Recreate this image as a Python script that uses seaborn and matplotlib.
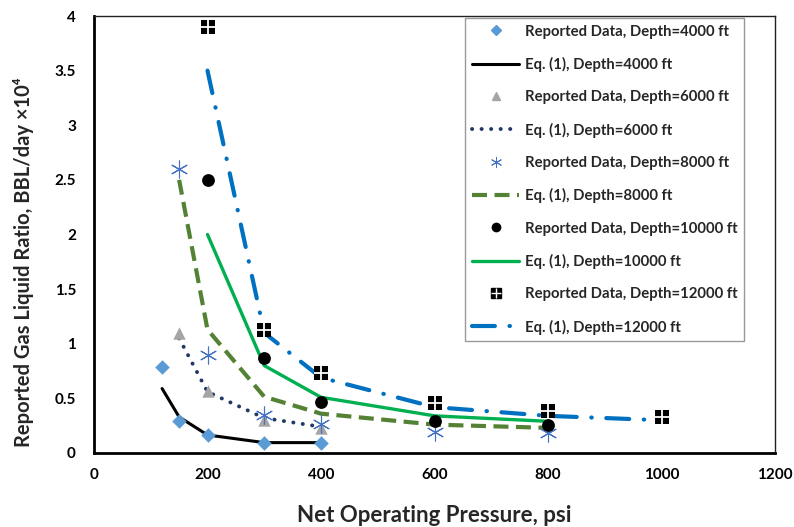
import matplotlib
matplotlib.use("Agg")
import matplotlib.pyplot as plt
import seaborn as sns
from matplotlib.lines import Line2D
from matplotlib.legend_handler import HandlerTuple

# ---- data ----
p_4000 = [120, 150, 200, 300, 400]
rep_4000 = [0.79, 0.29, 0.165, 0.095, 0.09]
eq_4000 = [0.59, 0.33, 0.165, 0.095, 0.095]

p_6000 = [150, 200, 300, 400]
rep_6000 = [1.10, 0.57, 0.30, 0.23]
eq_6000 = [1.05, 0.56, 0.32, 0.24]

p_8000 = [150, 200, 300, 400, 600, 800]
rep_8000 = [2.60, 0.90, 0.35, 0.27, 0.195, 0.18]
eq_8000 = [2.50, 1.13, 0.515, 0.36, 0.26, 0.23]

p_10000 = [200, 300, 400, 600, 800]
rep_10000 = [2.50, 0.867, 0.464, 0.29, 0.26]
eq_10000 = [2.00, 0.80, 0.51, 0.34, 0.29]

p_12000 = [200, 300, 400, 600, 800, 1000]
rep_12000 = [3.90, 1.13, 0.73, 0.46, 0.385, 0.33]
eq_12000 = [3.50, 1.10, 0.69, 0.42, 0.34, 0.30]

labels_rep = ["Reported Data, Depth=4000 ft", "Reported Data, Depth=6000 ft",
              "Reported Data, Depth=8000 ft", "Reported Data, Depth=10000 ft",
              "Reported Data, Depth=12000 ft"]
labels_eq = ["Eq. (1), Depth=4000 ft", "Eq. (1), Depth=6000 ft",
             "Eq. (1), Depth=8000 ft", "Eq. (1), Depth=10000 ft",
             "Eq. (1), Depth=12000 ft"]

x_ticks = [0, 200, 400, 600, 800, 1000, 1200]
y_ticks = [0, 0.5, 1, 1.5, 2, 2.5, 3, 3.5, 4]
y_tick_labels = ["0", "0.5", "1", "1.5", "2", "2.5", "3", "3.5", "4"]

# ---- style ----
sns.set_theme(style="white")
plt.rcParams['font.family'] = ['Lato', 'DejaVu Sans']
plt.rcParams['font.weight'] = 'bold'

fig = plt.figure(figsize=(7.94, 5.27), dpi=100)
ax = fig.add_axes([94/794, 1-453/527, (775-94)/794, (453-16)/527])

c_diam = "#5B9BD5"
c_tri = "#A5A5A5"
c_ast = "#4472C4"

ls_dot = (0, (0.05, 2.4))
ls_dash = (0, (3.6, 1.8))
ls_dashdot = (0, (5.5, 3.5, 0.1, 3.5))

# lines
sns.lineplot(x=p_4000, y=eq_4000, ax=ax, color="black", linewidth=2.2, legend=False,
             sort=False, zorder=2)
sns.lineplot(x=p_6000, y=eq_6000, ax=ax, color="#203864", linewidth=2.8, legend=False,
             sort=False, linestyle=ls_dot, dash_capstyle="round", zorder=2)
sns.lineplot(x=p_8000, y=eq_8000, ax=ax, color="#548235", linewidth=3.0, legend=False,
             sort=False, linestyle=ls_dash, zorder=2)
sns.lineplot(x=p_10000, y=eq_10000, ax=ax, color="#00B050", linewidth=2.4, legend=False,
             sort=False, zorder=2)
sns.lineplot(x=p_12000, y=eq_12000, ax=ax, color="#0070C0", linewidth=3.0, legend=False,
             sort=False, linestyle=ls_dashdot, dash_capstyle="round", zorder=2)

# markers
sns.scatterplot(x=p_4000, y=rep_4000, ax=ax, marker="D", s=55, color=c_diam,
                edgecolor=c_diam, linewidth=0, zorder=3, legend=False)
sns.scatterplot(x=p_6000, y=rep_6000, ax=ax, marker="^", s=80, color=c_tri,
                edgecolor=c_tri, linewidth=0, zorder=3, legend=False)
sns.scatterplot(x=p_8000, y=rep_8000, ax=ax, marker=(6, 2, 0), s=150, color=c_ast,
                linewidth=0.8, zorder=3, legend=False)
sns.scatterplot(x=p_10000, y=rep_10000, ax=ax, marker="o", s=85, color="black",
                edgecolor="black", linewidth=0, zorder=3, legend=False)
sns.scatterplot(x=p_12000, y=rep_12000, ax=ax, marker="s", s=95, color="black",
                edgecolor="black", linewidth=0, zorder=3, legend=False)
sns.scatterplot(x=p_12000, y=rep_12000, ax=ax, marker="+", s=95, color="white",
                linewidth=1.3, zorder=4, legend=False)

ax.set_xlim(0, 1200)
ax.set_ylim(0, 4)
ax.set_xticks(x_ticks)
ax.set_xticklabels([str(v) for v in x_ticks])
ax.set_yticks(y_ticks)
ax.set_yticklabels(y_tick_labels)
ax.tick_params(axis='both', length=0, labelsize=11, colors="black")
ax.tick_params(axis='x', pad=11)
ax.tick_params(axis='y', pad=13)
for lab in ax.get_xticklabels() + ax.get_yticklabels():
    lab.set_fontweight('bold')

for side in ["left", "bottom"]:
    ax.spines[side].set_color("black")
    ax.spines[side].set_linewidth(2.0)
for side in ["top", "right"]:
    ax.spines[side].set_color("#222222")
    ax.spines[side].set_linewidth(1.0)

ax.set_xlabel("Net Operating Pressure, psi", fontsize=16, fontweight='bold', labelpad=16)
ax.set_ylabel("Reported Gas Liquid Ratio, BBL/day ×10⁴", fontsize=14.5, fontweight='bold')
ax.yaxis.set_label_coords((34 - 94) / 681, (453 - 262) / 437)

# legend proxies
h = []
h.append(Line2D([], [], linestyle="none", marker="D", markersize=5, color=c_diam))
h.append(Line2D([], [], color="black", linewidth=2.2))
h.append(Line2D([], [], linestyle="none", marker="^", markersize=6, color=c_tri))
h.append(Line2D([], [], color="#203864", linewidth=2.8, linestyle=ls_dot,
                dash_capstyle="round"))
h.append(Line2D([], [], linestyle="none", marker=(6, 2, 0), markersize=8, color=c_ast,
                markeredgewidth=0.7))
h.append(Line2D([], [], color="#548235", linewidth=3.0, linestyle=ls_dash))
h.append(Line2D([], [], linestyle="none", marker="o", markersize=6, color="black"))
h.append(Line2D([], [], color="#00B050", linewidth=2.4))
h.append((Line2D([], [], linestyle="none", marker="s", markersize=7, color="black"),
          Line2D([], [], linestyle="none", marker="+", markersize=7, color="white",
                 markeredgewidth=1.0)))
h.append(Line2D([], [], color="#0070C0", linewidth=3.0, linestyle=ls_dashdot,
                dash_capstyle="round"))
labs = []
for a, b in zip(labels_rep, labels_eq):
    labs += [a, b]

leg = ax.legend(h, labs, loc="upper right", bbox_to_anchor=((744-94)/681, (453-18)/437),
                borderaxespad=0, handlelength=3.2, labelspacing=1.23,
                handletextpad=0.35, borderpad=0.45, frameon=True, fancybox=False,
                edgecolor="#808080", handler_map={tuple: HandlerTuple(ndivide=1, pad=0)},
                prop={'weight': 'bold', 'size': 10.7})
leg.get_frame().set_linewidth(1.0)

fig.savefig("out.png", dpi=100)
